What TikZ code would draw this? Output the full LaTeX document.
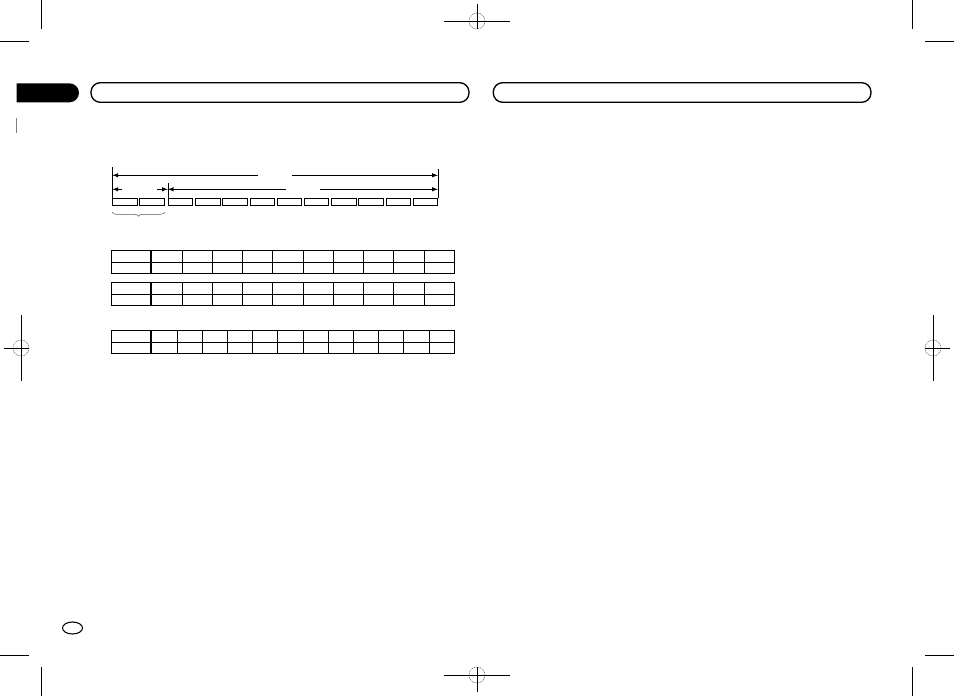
\documentclass[tikz,border=0pt]{standalone}
\usepackage{xcolor}
\usepackage{tikz}
\usetikzlibrary{decorations.pathreplacing}

\tikzset{
    cell/.style={draw, line width=0.5pt, minimum width=18.4pt, minimum height=5pt, inner sep=0pt},
    dim/.style={line width=0.5pt, >=latex},
    grid/.style={line width=0.6pt},
    trim/.style={line width=0.6pt},
    bar/.style={line width=1pt, rounded corners=7pt},
}

\begin{document}
\begin{tikzpicture}[x=0.75pt, y=-0.75pt]
    \useasboundingbox (0,0) rectangle (954,696);

    % Crop marks in the corners
    \draw[trim] (41,0) -- (41,29);
    \draw[trim] (0,41) -- (29,41);
    \draw[trim] (912.3,0) -- (912.3,29);
    \draw[trim] (925,41) -- (954,41);
    \draw[trim] (0,655) -- (29,655);
    \draw[trim] (41,667) -- (41,696);
    \draw[trim] (925,655) -- (954,655);
    \draw[trim] (912.3,667) -- (912.3,696);

    \foreach \cx/\cy/\l/\r/\u/\d in {477/21/33/33/17/8, 477/675/33/33/8/17, 21/348/17/8/33/33, 933/348/8/17/33/33} {
        % Dotted circle of the register mark
        \draw[gray, dash pattern=on 1pt off 0.6pt, line width=0.5pt] (\cx,\cy) circle [radius=8];
        % Cross of the register mark
        \draw[trim] (\cx-\l,\cy) -- (\cx+\r,\cy);
        \draw[trim] (\cx,\cy-\u) -- (\cx,\cy+\d);
    }

    % Black tab and the two header bars
    \fill (16.7,83.3) -- (69.5,83.3) arc[start angle=-90, end angle=90, radius=9.5] -- (16.7,102.3) -- cycle;
    \draw[bar] (91,82.7) rectangle (469,102.3);
    \draw[bar] (493.3,82.7) rectangle (871,102.3);
    \draw[gray, line width=0.6pt] (16.7,118) -- (16.7,133);

    % Row of boxes
    \foreach \i/\x in {1/125, 2/152} \node[cell] (b\i) at (\x,202) {};
    \foreach \i in {3,...,12} \node[cell] (b\i) at ({180.5+27.2*(\i-3)},202) {};

    % Limit ticks
    \draw[dim] (b1.north west) -- ++(0,-31);
    \draw[dim] (b12.north east) -- ++(0,-29);
    \draw[dim] (b3.north west) -- ++(0,-15);

    % Upper dimension line
    \coordinate (topgapL) at (257.7,175.3);
    \coordinate (topgapR) at (292.3,175.3);
    \draw[dim,<-] (b1.west |- topgapL) -- (topgapL);
    \draw[dim,->] (topgapR) -- (b12.east |- topgapR);

    % Lower dimension lines
    \coordinate (hdrL) at (121.7,189.3);
    \coordinate (hdrR) at (157.3,189.3);
    \draw[dim,<-] (b1.west |- hdrL) -- (hdrL);
    \draw[dim,->] (hdrR) -- (b3.west |- hdrR);
    \coordinate (datL) at (285.7,189.3);
    \coordinate (datR) at (320,189.3);
    \draw[dim,<-] (b3.west |- datL) -- (datL);
    \draw[dim,->] (datR) -- (b12.east |- datR);

    % Brace under the first two boxes
    \draw[gray!70!black, line width=0.4pt, decorate, decoration={brace, mirror, amplitude=3pt}]
        ([yshift=-5pt]b1.south west) -- ([yshift=-5pt]b2.south east);

    \foreach \top/\n in {250.7/10, 282.7/10, 330.7/12} {
        % Outer frame
        \draw[grid] (111.7,\top) rectangle (454.3,\top+23);
        % Middle rule
        \draw[grid] (111.7,\top+11.5) -- (454.3,\top+11.5);
        % Double rule after the heading column
        \draw[grid] (150,\top) -- (150,\top+23);
        % Column rules
        \pgfmathtruncatemacro\last{\n-1}
        \foreach \c in {0,...,\last}
            \draw[grid] ({151.7+302.6*\c/\n},\top) -- ++(0,23);
    }

    % Page number oval
    \draw[line width=0.8pt] (72.5,628) ellipse [x radius=10, y radius=6];
\end{tikzpicture}
\end{document}
